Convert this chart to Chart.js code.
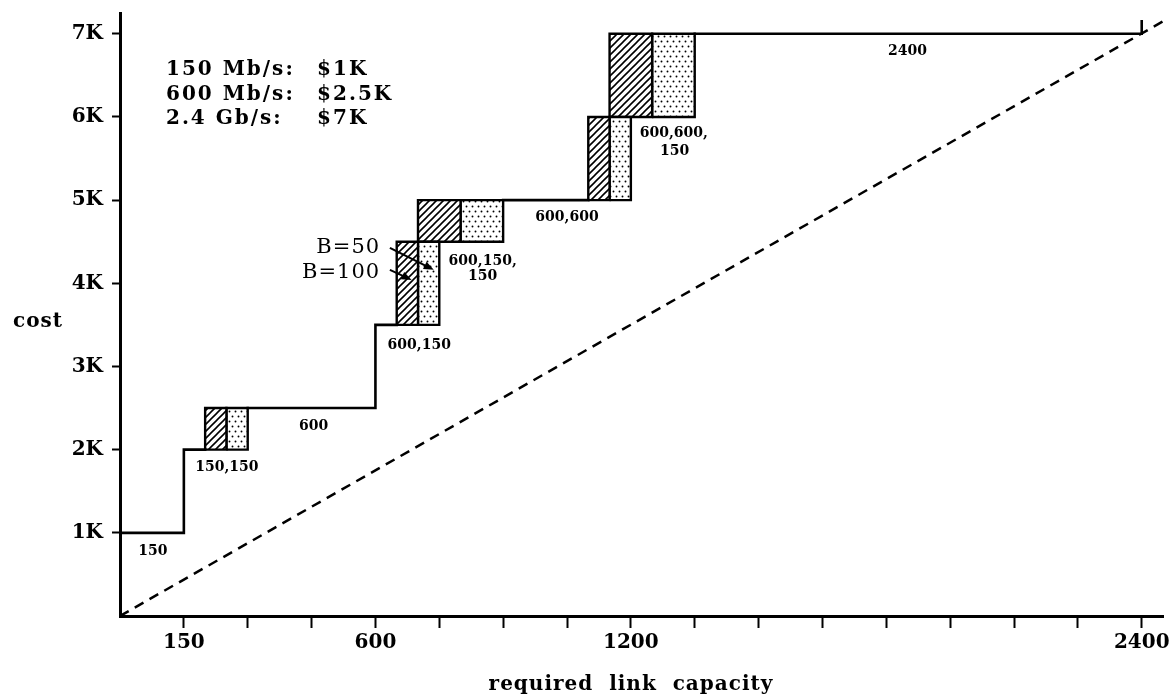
<!DOCTYPE html>
<html><head><meta charset="utf-8">
<script src="https://cdn.jsdelivr.net/npm/chart.js@4.4.1/dist/chart.umd.min.js"></script>
<style>html,body{margin:0;padding:0;background:#fff}#wrap{width:1173px;height:695px}</style>
</head><body><div id="wrap"><canvas id="c" width="1173" height="695"></canvas></div>
<script>
// ---------- data ----------
const xTickValues = [150,300,450,600,750,900,1050,1200,1350,1500,1650,1800,1950,2100,2250,2400];
const xTickLabels = {150:'150', 600:'600', 1200:'1200', 2400:'2400'};
const yTickValues = [1000,2000,3000,4000,5000,6000,7000];
const yTickLabels = ['1K','2K','3K','4K','5K','6K','7K'];

// cost step line (null = gap)
const stepX = [0,150,150,200, null, 300,600,600,650, null, 900,1100, null, 1350,2400,2400];
const stepY = [1000,1000,2000,2000, null, 2500,2500,3500,3500, null, 5000,5000, null, 7000,7000,7150];

// uncertainty boxes: B=100 part (start..split), B=50 part (split..end)
const boxStart = [200, 650, 700, 1100, 1150];
const boxSplit = [250, 700, 800, 1150, 1250];
const boxEnd   = [300, 750, 900, 1200, 1350];
const boxLow   = [2000, 3500, 4500, 5000, 6000];
const boxHigh  = [2500, 4500, 5000, 6000, 7000];

// diagonal reference line
const diagX = [0, 2450];
const diagY = [0, 7150];

// texts
const stepLabelText = ['150','150,150','600','600,150','600,150,','150','600,600','600,600,','150','2400'];
const speedText = ['150 Mb/s:','600 Mb/s:','2.4 Gb/s:'];
const priceText = ['$1K','$2.5K','$7K'];
const bText = ['B=50','B=100'];
const xTitle = 'required  link  capacity';
const yTitle = 'cost';

// annotation positions (data units)
const stepLabelX = [77, 251, 455, 703, 852, 852, 1050, 1301, 1303, 1850];
const stepLabelY = [734, 1738, 2231, 3211, 4222, 4041, 4745, 5761, 5545, 6748];
const legendX = [108, 463];
const legendY = [6501, 6206, 5918];
const bLabelX = 611;
const bLabelY = [4366, 4065];
const arrowFrom = [[634, 4426], [634, 4161]];
const arrowTo   = [[737, 4162], [685, 4041]];

// ---------- patterns ----------
function hatchPattern(){
  const s = 7, c = document.createElement('canvas'); c.width = s; c.height = s;
  const g = c.getContext('2d'); g.fillStyle = '#fff'; g.fillRect(0,0,s,s);
  g.strokeStyle = '#000'; g.lineWidth = 1.6;
  g.beginPath();
  g.moveTo(0,s); g.lineTo(s,0);
  g.moveTo(-2,2); g.lineTo(2,-2);
  g.moveTo(s-2,s+2); g.lineTo(s+2,s-2);
  g.stroke();
  return document.getElementById('c').getContext('2d').createPattern(c,'repeat');
}
function dotPattern(){
  const w = 6, h = 10, c = document.createElement('canvas'); c.width = w; c.height = h;
  const g = c.getContext('2d'); g.fillStyle = '#fff'; g.fillRect(0,0,w,h);
  g.fillStyle = '#000';
  g.beginPath(); g.arc(1.5,1.5,0.95,0,Math.PI*2); g.fill();
  g.beginPath(); g.arc(4.5,6.5,0.95,0,Math.PI*2); g.fill();
  return document.getElementById('c').getContext('2d').createPattern(c,'repeat');
}
const HATCH = hatchPattern(), DOTS = dotPattern();

// ---------- datasets ----------
const FONT = '"DejaVu Serif", serif';
const datasets = [];
datasets.push({
  label:'diag', data: diagX.map((v,i)=>({x:v,y:diagY[i]})),
  showLine:true, borderColor:'#000', borderWidth:2.5, borderDash:[10,7], pointRadius:0, fill:false
});
datasets.push({
  label:'cost', data: stepX.map((v,i)=>({x:v,y:stepY[i]})),
  showLine:true, spanGaps:false, borderColor:'#000', borderWidth:2.6, pointRadius:0, fill:false,
  borderCapStyle:'square', borderJoinStyle:'miter'
});
boxStart.forEach((s,i)=>{
  const parts = [[s, boxSplit[i], HATCH], [boxSplit[i], boxEnd[i], DOTS]];
  parts.forEach(([a,b,pat])=>{
    datasets.push({
      label:'box', data:[{x:a,y:boxLow[i]},{x:b,y:boxLow[i]},{x:b,y:boxHigh[i]},{x:a,y:boxHigh[i]},{x:a,y:boxLow[i]}],
      showLine:true, borderColor:'#000', borderWidth:2.4, pointRadius:0,
      backgroundColor:pat, fill:'shape', borderJoinStyle:'miter'
    });
  });
});

// ---------- annotation plugin ----------
const annot = {
  id:'annot',
  afterDraw(chart){
    const {ctx, scales:{x, y}} = chart;
    ctx.save();
    ctx.fillStyle = '#000'; ctx.strokeStyle = '#000';
    ctx.textBaseline = 'alphabetic';
    // step labels
    ctx.font = 'bold 14px ' + FONT; ctx.textAlign = 'center';
    stepLabelText.forEach((t,i)=>ctx.fillText(t, x.getPixelForValue(stepLabelX[i]), y.getPixelForValue(stepLabelY[i])));
    // price legend
    ctx.font = 'bold 20px ' + FONT; ctx.textAlign = 'left';
    ctx.letterSpacing = '2px';
    speedText.forEach((t,i)=>ctx.fillText(t, x.getPixelForValue(legendX[0]), y.getPixelForValue(legendY[i])));
    priceText.forEach((t,i)=>ctx.fillText(t, x.getPixelForValue(legendX[1]), y.getPixelForValue(legendY[i])));
    // B labels
    ctx.font = '21px ' + FONT; ctx.textAlign = 'right'; ctx.letterSpacing = '1px';
    bText.forEach((t,i)=>ctx.fillText(t, x.getPixelForValue(bLabelX), y.getPixelForValue(bLabelY[i])));
    ctx.letterSpacing = '0px';
    // arrows
    ctx.lineWidth = 2;
    arrowFrom.forEach((f,i)=>{
      const x1 = x.getPixelForValue(f[0]), y1 = y.getPixelForValue(f[1]);
      const x2 = x.getPixelForValue(arrowTo[i][0]), y2 = y.getPixelForValue(arrowTo[i][1]);
      const ang = Math.atan2(y2-y1, x2-x1), L = 10, W = 4;
      ctx.beginPath(); ctx.moveTo(x1,y1); ctx.lineTo(x2 - L*Math.cos(ang)*0.6, y2 - L*Math.sin(ang)*0.6); ctx.stroke();
      ctx.beginPath();
      ctx.moveTo(x2,y2);
      ctx.lineTo(x2 - L*Math.cos(ang) + W*Math.sin(ang), y2 - L*Math.sin(ang) - W*Math.cos(ang));
      ctx.lineTo(x2 - L*Math.cos(ang) - W*Math.sin(ang), y2 - L*Math.sin(ang) + W*Math.cos(ang));
      ctx.closePath(); ctx.fill();
    });
    // axis titles
    ctx.font = 'bold 20px ' + FONT; ctx.letterSpacing = '1px';
    ctx.textAlign = 'center';
    ctx.fillText(xTitle, 631, 690);
    ctx.fillText(yTitle, 38, y.getPixelForValue(3476));
    ctx.restore();
  }
};

new Chart(document.getElementById('c'), {
  type:'scatter',
  data:{datasets},
  options:{
    responsive:false, animation:false, devicePixelRatio:1,
    layout:{padding:{top:13, right:10, left:0, bottom:0}},
    plugins:{legend:{display:false}, tooltip:{enabled:false}},
    elements:{line:{tension:0}},
    scales:{
      x:{
        type:'linear', min:0, max:2450,
        afterBuildTicks:(s)=>{ s.ticks = xTickValues.map(v=>({value:v})); },
        afterFit:(s)=>{ s.height = 79; s.paddingLeft = 0; s.paddingRight = 0; },
        ticks:{autoSkip:false, maxRotation:0, padding:3, color:'#000',
               font:{family:FONT, size:20, weight:'bold'},
               callback:(v)=>xTickLabels[v] || ''},
        grid:{display:true, drawOnChartArea:false, drawTicks:true, tickLength:12, tickWidth:2, tickColor:'#000'},
        border:{display:true, width:3, color:'#000'}
      },
      y:{
        type:'linear', min:0, max:7250,
        afterBuildTicks:(s)=>{ s.ticks = yTickValues.map(v=>({value:v})); },
        afterFit:(s)=>{ s.width = 120; s.paddingTop = 0; s.paddingBottom = 0; },
        ticks:{autoSkip:false, padding:9, color:'#000',
               font:{family:FONT, size:20, weight:'bold'},
               callback:(v)=>{ const i = yTickValues.indexOf(v); return i >= 0 ? yTickLabels[i] : ''; }},
        grid:{display:true, drawOnChartArea:false, drawTicks:true, tickLength:8, tickWidth:2, tickColor:'#000'},
        border:{display:true, width:3, color:'#000'}
      }
    }
  },
  plugins:[annot]
});
</script></body></html>
